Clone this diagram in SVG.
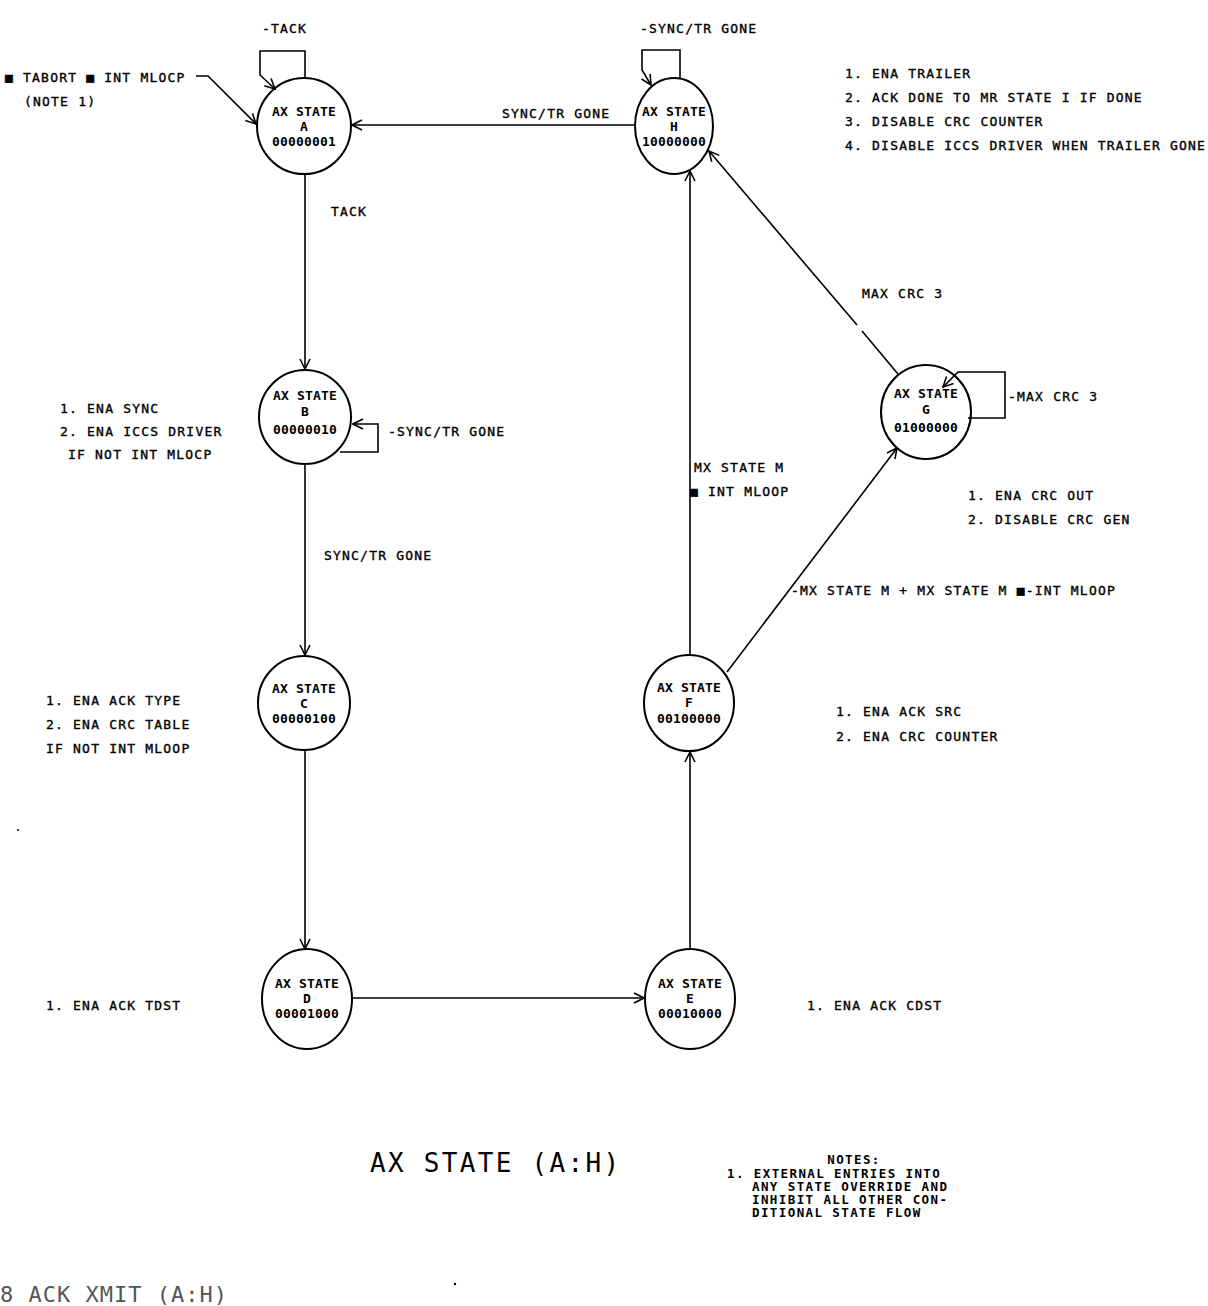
<svg xmlns="http://www.w3.org/2000/svg" width="1208" height="1306" viewBox="0 0 1208 1306">
<style>
.bg{fill:#fff}
.st{fill:none;stroke:#000;stroke-width:2}
.ln{fill:none;stroke:#000;stroke-width:1.6}
text{font-family:"DejaVu Sans Mono","Liberation Mono",monospace;fill:#000}
.t{font-size:13px;letter-spacing:1.2px;stroke:#000;stroke-width:0.35px}
.n{font-size:13px;letter-spacing:0.2px;text-anchor:middle;font-weight:bold}
.title{font-size:26px;letter-spacing:2.3px}
.note{font-size:12.5px;font-weight:bold;letter-spacing:1.4px}
.foot{font-size:22px;letter-spacing:1px;fill:#555}
</style>
<defs>
<marker id="arr" viewBox="0 0 12 12" refX="11" refY="6" markerWidth="12" markerHeight="12" markerUnits="userSpaceOnUse" orient="auto">
<path d="M1,1 L11,6 L1,11" fill="none" stroke="#000" stroke-width="1.6"/>
</marker>
</defs>
<rect class="bg" x="0" y="0" width="1208" height="1306"/>

<g id="connectors">
<path class="ln" d="M305,174 L305,369" marker-end="url(#arr)"/>
<path class="ln" d="M305,464 L305,655" marker-end="url(#arr)"/>
<path class="ln" d="M305,750 L305,949" marker-end="url(#arr)"/>
<path class="ln" d="M352,998 L644,998" marker-end="url(#arr)"/>
<path class="ln" d="M690,949 L690,752" marker-end="url(#arr)"/>
<path class="ln" d="M690,655 L690,171" marker-end="url(#arr)"/>
<path class="ln" d="M727,672 L897,448" marker-end="url(#arr)"/>
<path class="ln" d="M898,374 L862,331"/>
<path class="ln" d="M857,325 L709,151" marker-end="url(#arr)"/>
<path class="ln" d="M636,125 L352,125" marker-end="url(#arr)"/>
<path class="ln" d="M305,79 L305,51 L260,51 L260,75 L275,89" marker-end="url(#arr)"/>
<path class="ln" d="M196,76 L208,76 L256,124" marker-end="url(#arr)"/>
<path class="ln" d="M680,78 L680,50 L642,50 L642,70 L651,85" marker-end="url(#arr)"/>
<path class="ln" d="M340,452 L378,452 L378,424 L353,424" marker-end="url(#arr)"/>
<path class="ln" d="M968,418 L1005,418 L1005,372 L958,372 L943,387" marker-end="url(#arr)"/>
</g>

<g id="labels">
<text class="t" x="262" y="33">-TACK</text>
<text class="t" x="5" y="82">■ TABORT ■ INT MLOCP</text>
<text class="t" x="24" y="106">(NOTE 1)</text>
<text class="t" x="331" y="216">TACK</text>
<text class="t" x="640" y="33">-SYNC/TR GONE</text>
<text class="t" x="502" y="118">SYNC/TR GONE</text>
<text class="t" x="845" y="78">1. ENA TRAILER</text>
<text class="t" x="845" y="102">2. ACK DONE TO MR STATE I IF DONE</text>
<text class="t" x="845" y="126">3. DISABLE CRC COUNTER</text>
<text class="t" x="845" y="150">4. DISABLE ICCS DRIVER WHEN TRAILER GONE</text>
<text class="t" x="60" y="413">1. ENA SYNC</text>
<text class="t" x="60" y="436">2. ENA ICCS DRIVER</text>
<text class="t" x="68" y="459">IF NOT INT MLOCP</text>
<text class="t" x="388" y="436">-SYNC/TR GONE</text>
<text class="t" x="324" y="560">SYNC/TR GONE</text>
<text class="t" x="862" y="298">MAX CRC 3</text>
<text class="t" x="1008" y="401">-MAX CRC 3</text>
<text class="t" x="968" y="500">1. ENA CRC OUT</text>
<text class="t" x="968" y="524">2. DISABLE CRC GEN</text>
<text class="t" x="694" y="472">MX STATE M</text>
<text class="t" x="690" y="496">■ INT MLOOP</text>
<text class="t" x="791" y="595">-MX STATE M + MX STATE M ■-INT MLOOP</text>
<text class="t" x="46" y="705">1. ENA ACK TYPE</text>
<text class="t" x="46" y="729">2. ENA CRC TABLE</text>
<text class="t" x="46" y="753">IF NOT INT MLOOP</text>
<text class="t" x="836" y="716">1. ENA ACK SRC</text>
<text class="t" x="836" y="741">2. ENA CRC COUNTER</text>
<text class="t" x="46" y="1010">1. ENA ACK TDST</text>
<text class="t" x="807" y="1010">1. ENA ACK CDST</text>
<text class="title" x="370" y="1172">AX STATE (A:H)</text>
<text class="note" x="854" y="1164" text-anchor="middle">NOTES:</text>
<text class="note" x="727" y="1178">1. EXTERNAL ENTRIES INTO</text>
<text class="note" x="752" y="1191">ANY STATE OVERRIDE AND</text>
<text class="note" x="752" y="1204">INHIBIT ALL OTHER CON-</text>
<text class="note" x="752" y="1217">DITIONAL STATE FLOW</text>
<text class="foot" x="0" y="1302">8 ACK XMIT (A:H)</text>
</g>

<g id="nodeA"><ellipse class="st" cx="304" cy="126" rx="47" ry="48"/>
<text class="n" x="304" y="116">AX STATE</text><text class="n" x="304" y="131">A</text><text class="n" x="304" y="146">00000001</text></g>
<g id="nodeB"><ellipse class="st" cx="305" cy="417" rx="46" ry="47"/>
<text class="n" x="305" y="400">AX STATE</text><text class="n" x="305" y="416">B</text><text class="n" x="305" y="434">00000010</text></g>
<g id="nodeC"><ellipse class="st" cx="304" cy="703" rx="46" ry="47"/>
<text class="n" x="304" y="693">AX STATE</text><text class="n" x="304" y="708">C</text><text class="n" x="304" y="723">00000100</text></g>
<g id="nodeD"><ellipse class="st" cx="307" cy="999" rx="45" ry="50"/>
<text class="n" x="307" y="988">AX STATE</text><text class="n" x="307" y="1003">D</text><text class="n" x="307" y="1018">00001000</text></g>
<g id="nodeE"><ellipse class="st" cx="690" cy="999" rx="45" ry="50"/>
<text class="n" x="690" y="988">AX STATE</text><text class="n" x="690" y="1003">E</text><text class="n" x="690" y="1018">00010000</text></g>
<g id="nodeF"><ellipse class="st" cx="689" cy="703" rx="45" ry="48"/>
<text class="n" x="689" y="692">AX STATE</text><text class="n" x="689" y="707">F</text><text class="n" x="689" y="723">00100000</text></g>
<g id="nodeG"><ellipse class="st" cx="926" cy="412" rx="45" ry="47"/>
<text class="n" x="926" y="398">AX STATE</text><text class="n" x="926" y="414">G</text><text class="n" x="926" y="432">01000000</text></g>
<g id="nodeH"><ellipse class="st" cx="674" cy="126" rx="39" ry="48"/>
<text class="n" x="674" y="116">AX STATE</text><text class="n" x="674" y="131">H</text><text class="n" x="674" y="146">10000000</text></g>

<circle cx="18" cy="830" r="1" fill="#000"/>
<circle cx="455" cy="1284" r="1.2" fill="#000"/>
</svg>
